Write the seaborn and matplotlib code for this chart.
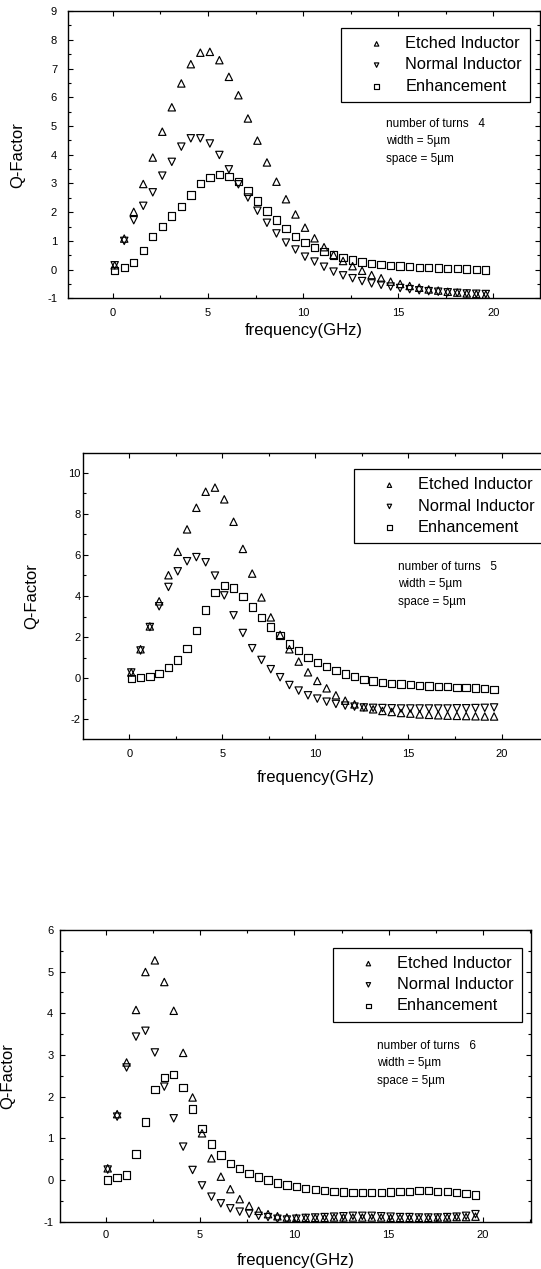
import matplotlib
matplotlib.use("Agg")
import matplotlib.pyplot as plt
from matplotlib.ticker import MultipleLocator
import seaborn as sns

# frequency grid (GHz), shared by all curves
freq = [0.1, 0.6, 1.1, 1.6, 2.1, 2.6, 3.1, 3.6, 4.1, 4.6,
        5.1, 5.6, 6.1, 6.6, 7.1, 7.6, 8.1, 8.6, 9.1, 9.6,
        10.1, 10.6, 11.1, 11.6, 12.1, 12.6, 13.1, 13.6, 14.1, 14.6,
        15.1, 15.6, 16.1, 16.6, 17.1, 17.6, 18.1, 18.6, 19.1, 19.6]

series_labels = ["Etched Inductor", "Normal Inductor", "Enhancement"]

# 4 turns
etched4 = [0.15, 1.08, 2.01, 2.98, 3.90, 4.80, 5.65, 6.48, 7.15, 7.55,
           7.58, 7.29, 6.71, 6.07, 5.26, 4.49, 3.73, 3.06, 2.45, 1.92,
           1.46, 1.09, 0.78, 0.51, 0.30, 0.12, -0.04, -0.19, -0.30, -0.42,
           -0.50, -0.57, -0.63, -0.69, -0.73, -0.77, -0.80, -0.83, -0.85, -0.87]
normal4 = [0.15, 1.00, 1.72, 2.22, 2.69, 3.27, 3.75, 4.28, 4.57, 4.57,
           4.39, 3.99, 3.49, 2.97, 2.51, 2.05, 1.63, 1.26, 0.94, 0.70,
           0.45, 0.28, 0.10, -0.07, -0.20, -0.30, -0.40, -0.48, -0.53, -0.59,
           -0.64, -0.68, -0.72, -0.75, -0.77, -0.79, -0.81, -0.83, -0.84, -0.85]
enh4 = [-0.03, 0.07, 0.25, 0.66, 1.15, 1.49, 1.87, 2.19, 2.60, 3.00,
        3.20, 3.32, 3.24, 3.06, 2.74, 2.39, 2.04, 1.73, 1.42, 1.15,
        0.95, 0.78, 0.62, 0.51, 0.42, 0.33, 0.26, 0.22, 0.17, 0.15,
        0.12, 0.10, 0.08, 0.07, 0.06, 0.05, 0.03, 0.02, 0.01, -0.01]

# 5 turns
etched5 = [0.28, 1.41, 2.52, 3.74, 5.01, 6.15, 7.24, 8.29, 9.07, 9.27,
           8.70, 7.61, 6.29, 5.09, 3.93, 2.96, 2.11, 1.41, 0.81, 0.29,
           -0.13, -0.49, -0.83, -1.09, -1.27, -1.41, -1.51, -1.59, -1.64, -1.69,
           -1.72, -1.76, -1.78, -1.80, -1.82, -1.83, -1.84, -1.85, -1.86, -1.86]
normal5 = [0.28, 1.35, 2.49, 3.50, 4.44, 5.20, 5.69, 5.89, 5.64, 4.99,
           4.03, 3.06, 2.20, 1.46, 0.89, 0.44, 0.05, -0.33, -0.60, -0.83,
           -0.99, -1.14, -1.25, -1.33, -1.38, -1.42, -1.44, -1.45, -1.46, -1.47,
           -1.47, -1.47, -1.47, -1.47, -1.47, -1.46, -1.46, -1.45, -1.44, -1.42]
enh5 = [0.00, 0.05, 0.08, 0.24, 0.52, 0.89, 1.46, 2.33, 3.32, 4.18,
        4.52, 4.39, 3.98, 3.46, 2.96, 2.49, 2.07, 1.67, 1.35, 1.02,
        0.78, 0.57, 0.37, 0.21, 0.07, -0.05, -0.13, -0.20, -0.24, -0.28,
        -0.31, -0.34, -0.37, -0.39, -0.41, -0.44, -0.46, -0.47, -0.50, -0.54]

# 6 turns
etched6 = [0.28, 1.58, 2.82, 4.08, 4.99, 5.27, 4.75, 4.06, 3.05, 1.98,
           1.12, 0.52, 0.08, -0.22, -0.46, -0.62, -0.74, -0.82, -0.87, -0.90,
           -0.91, -0.91, -0.91, -0.91, -0.90, -0.90, -0.90, -0.90, -0.90, -0.90,
           -0.91, -0.91, -0.91, -0.91, -0.91, -0.90, -0.90, -0.89, -0.89, -0.88]
normal6 = [0.25, 1.52, 2.70, 3.44, 3.58, 3.06, 2.24, 1.48, 0.80, 0.24,
           -0.13, -0.40, -0.56, -0.68, -0.76, -0.81, -0.86, -0.89, -0.93, -0.95,
           -0.93, -0.91, -0.90, -0.89, -0.88, -0.87, -0.86, -0.86, -0.86, -0.87,
           -0.88, -0.89, -0.89, -0.90, -0.90, -0.90, -0.89, -0.88, -0.86, -0.82]
enh6 = [0.00, 0.06, 0.12, 0.62, 1.39, 2.17, 2.46, 2.53, 2.22, 1.70,
        1.24, 0.86, 0.60, 0.40, 0.27, 0.15, 0.07, 0.00, -0.07, -0.12,
        -0.16, -0.20, -0.23, -0.26, -0.28, -0.29, -0.30, -0.30, -0.30, -0.30,
        -0.29, -0.28, -0.27, -0.26, -0.26, -0.27, -0.28, -0.30, -0.33, -0.36]

turns = [4, 5, 6]
data = [(etched4, normal4, enh4), (etched5, normal5, enh5), (etched6, normal6, enh6)]

# layout per panel (figure fractions / axes fractions)
rects = [[0.1248, 0.7649, 0.8734, 0.2264],
         [0.1542, 0.4174, 0.8588, 0.2254],
         [0.1109, 0.0373, 0.8712, 0.2299]]
xlims = [(-2.38, 22.45), (-2.47, 22.5), (-2.43, 22.56)]
ylims = [(-1, 9), (-2.97, 10.94), (-1, 6)]
ymajor = [1, 2, 1]
ytick_pad = [7.5, 2.0, 4.8]
xtick_pad = [7.0, 7.0, 6.0]
legend_anchor = [(0.979, 0.941), (0.989, 0.944), (0.980, 0.939)]
note_x = [0.673, 0.677, 0.673]
note_y = [(0.607, 0.549, 0.485), (0.604, 0.543, 0.479), (0.603, 0.545, 0.481)]
ylabel_x = [-0.090, -0.096, -0.094]
xlabel_y = [-0.085, -0.107, -0.106]

sns.set_style("ticks", {"axes.edgecolor": "black", "xtick.color": "black",
                        "ytick.color": "black", "text.color": "black",
                        "axes.labelcolor": "black"})
plt.rcParams["font.family"] = ["Liberation Sans", "DejaVu Sans"]
plt.rcParams["axes.unicode_minus"] = False

fig = plt.figure(figsize=(5.41, 12.69), dpi=100)

markers = ["^", "v", "s"]
for i in range(3):
    ax = fig.add_axes(rects[i])
    for vals, m, lab in zip(data[i], markers, series_labels):
        sns.scatterplot(x=freq, y=vals, marker=m, s=28, color="black",
                        facecolor="none", edgecolor="black", linewidth=0.85,
                        label=lab, ax=ax)

    ax.set_xlim(*xlims[i])
    ax.set_ylim(*ylims[i])
    ax.xaxis.set_major_locator(MultipleLocator(5))
    ax.xaxis.set_minor_locator(MultipleLocator(2.5))
    ax.yaxis.set_major_locator(MultipleLocator(ymajor[i]))
    ax.yaxis.set_minor_locator(MultipleLocator(ymajor[i] / 2))
    ax.tick_params(which="both", direction="in", top=True, right=True, width=0.8)
    ax.tick_params(which="major", length=3.5, labelsize=8)
    ax.tick_params(which="minor", length=2)
    ax.tick_params(axis="y", which="major", pad=ytick_pad[i])
    ax.tick_params(axis="x", which="major", pad=xtick_pad[i])
    for sp in ax.spines.values():
        sp.set_linewidth(1.0)

    ax.set_xlabel("frequency(GHz)", fontsize=12)
    ax.set_ylabel("Q-Factor", fontsize=12)
    ax.xaxis.set_label_coords(0.5, xlabel_y[i])
    ax.yaxis.set_label_coords(ylabel_x[i], 0.5)

    leg = ax.legend(loc="upper right", bbox_to_anchor=legend_anchor[i],
                    borderaxespad=0, fancybox=False, framealpha=1,
                    edgecolor="black", fontsize=11.8, markerscale=0.6,
                    labelspacing=0.38, borderpad=0.5, handlelength=3.3,
                    handletextpad=0.1, scatterpoints=1)
    leg.get_frame().set_linewidth(0.9)

    notes = ["number of turns   %d" % turns[i], "width = 5\u00b5m", "space = 5\u00b5m"]
    for t, yy in zip(notes, note_y[i]):
        ax.text(note_x[i], yy, t, transform=ax.transAxes, fontsize=8.5, va="center")

fig.savefig("out.png", dpi=100)
